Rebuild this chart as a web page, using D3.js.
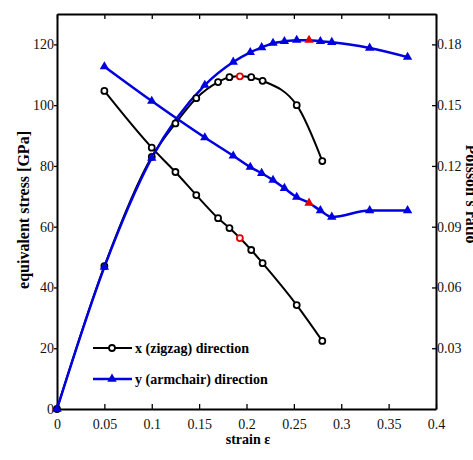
<!DOCTYPE html>
<html lang="en">
<head>
    <meta charset="UTF-8">
    <script src="https://d3js.org/d3.v7.min.js"></script>
    <title>stress and Poisson ratio vs strain</title>
    <style>
        body { margin: 0; background: #fff; }
        svg, svg text { font-family: "Times New Roman", "Liberation Serif", "DejaVu Serif", serif; }
    </style>
</head>
<body>
    <figure style="margin:0"></figure>
    <script>
        //data
        const zigzagStrain  = [0, 0.05, 0.1, 0.125, 0.147, 0.17, 0.182, 0.193, 0.205, 0.217, 0.253, 0.28];
        const zigzagStress  = [0, 47, 83, 94, 102.3, 107.6, 109.2, 109.5, 109.2, 108, 100, 81.6];
        const zigzagPoisson = [null, 0.157, 0.129, 0.117, 0.1056, 0.0942, 0.0893, 0.0844, 0.0785, 0.072, 0.0513, 0.0336];
        const zigzagMark = 7;

        const armchairStrain  = [0, 0.05, 0.1, 0.156, 0.186, 0.204, 0.216, 0.228, 0.24, 0.253, 0.266, 0.278, 0.29, 0.33, 0.37];
        const armchairStress  = [0, 46.7, 82.6, 106.6, 114.2, 117.4, 119, 120.4, 121, 121.4, 121.4, 121, 120.7, 118.8, 115.8];
        const armchairPoisson = [null, 0.169, 0.152, 0.134, 0.125, 0.1194, 0.1164, 0.113, 0.109, 0.1046, 0.1017, 0.098, 0.0948, 0.098, 0.098];
        const armchairMark = 10;

        const xTicks = [0, 0.05, 0.1, 0.15, 0.2, 0.25, 0.3, 0.35, 0.4];
        const stressTicks = [0, 20, 40, 60, 80, 100, 120];
        const poissonTicks = [0.03, 0.06, 0.09, 0.12, 0.15, 0.18];

        const seriesNames = ["x (zigzag) direction", "y (armchair) direction"];

        //declare variables
        const w = 473;
        const h = 460;
        const padLeft = 57, padRight = 436, padTop = 14, padBottom = 409;

        const xScale = d3.scaleLinear().domain([0, 0.4]).range([padLeft, padRight]);
        const yScale = d3.scaleLinear().domain([0, 130]).range([padBottom, padTop]);
        const pScale = d3.scaleLinear().domain([0, 0.195]).range([padBottom, padTop]);

        const svg = d3.select("figure")
            .append("svg")
            .attr("width", w)
            .attr("height", h);

        svg.append("rect").attr("width", w).attr("height", h).attr("fill", "#fff");

        //axes, matlab style with inward ticks
        svg.append("g")
            .attr("transform", "translate(0," + padBottom + ")")
            .call(d3.axisBottom(xScale).tickValues(xTicks).tickSizeInner(-5).tickSizeOuter(0)
                .tickFormat(d => String(+d.toFixed(2))))
            .call(g => g.selectAll("text").attr("dy", "1.2em"));

        svg.append("g")
            .attr("transform", "translate(0," + padTop + ")")
            .call(d3.axisTop(xScale).tickValues(xTicks).tickSizeInner(-5).tickSizeOuter(0).tickFormat(""));

        svg.append("g")
            .attr("transform", "translate(" + padLeft + ",0)")
            .call(d3.axisLeft(yScale).tickValues(stressTicks).tickSizeInner(3).tickSizeOuter(0))
            .call(g => g.selectAll("text").attr("x", -3));

        svg.append("g")
            .attr("transform", "translate(" + padRight + ",0)")
            .call(d3.axisRight(pScale).tickValues(poissonTicks).tickSizeInner(-4).tickSizeOuter(0))
            .call(g => g.selectAll("text").attr("x", 1));

        svg.selectAll("g").attr("font-family", null);
        svg.selectAll(".domain").attr("stroke", "#000").attr("stroke-width", 2);
        svg.selectAll(".tick line").attr("stroke", "#000").attr("stroke-width", 1.3);
        svg.selectAll(".tick text")
            .attr("font-size", 14)
            .attr("fill", "#111");

        //axis labels
        svg.append("text")
            .attr("transform", "translate(29,210) rotate(-90)")
            .attr("text-anchor", "middle")
            .attr("font-size", 16)
            .attr("font-weight", "bold")
            .text("equivalent stress [GPa]");

        svg.append("text")
            .attr("x", 248)
            .attr("y", 444)
            .attr("text-anchor", "middle")
            .attr("font-size", 14)
            .attr("font-weight", "bold")
            .text("strain \u03b5");

        svg.append("text")
            .attr("transform", "translate(466,194) rotate(90)")
            .attr("text-anchor", "middle")
            .attr("font-size", 16)
            .attr("font-weight", "bold")
            .text("Poisson's ratio");

        //lines
        const stressLine = (xs, ys) => d3.line()
            .defined(i => ys[i] != null)
            .x(i => xScale(xs[i]))
            .y(i => yScale(ys[i]))
            .curve(d3.curveMonotoneX)(d3.range(xs.length));

        const poissonLine = (xs, ps) => d3.line()
            .defined(i => ps[i] != null)
            .x(i => xScale(xs[i]))
            .y(i => pScale(ps[i]))
            .curve(d3.curveMonotoneX)(d3.range(xs.length));

        svg.append("path").attr("d", stressLine(zigzagStrain, zigzagStress))
            .attr("fill", "none").attr("stroke", "#000").attr("stroke-width", 2);
        svg.append("path").attr("d", poissonLine(zigzagStrain, zigzagPoisson))
            .attr("fill", "none").attr("stroke", "#000").attr("stroke-width", 2);
        svg.append("path").attr("d", stressLine(armchairStrain, armchairStress))
            .attr("fill", "none").attr("stroke", "#0000e0").attr("stroke-width", 2.5);
        svg.append("path").attr("d", poissonLine(armchairStrain, armchairPoisson))
            .attr("fill", "none").attr("stroke", "#0000e0").attr("stroke-width", 2.5);

        //markers
        function circles(xs, ys, scale, mark) {
            svg.append("g").selectAll("circle")
                .data(d3.range(xs.length).filter(i => ys[i] != null))
                .enter()
                .append("circle")
                .attr("cx", i => xScale(xs[i]))
                .attr("cy", i => scale(ys[i]))
                .attr("r", 3)
                .attr("fill", "#fff")
                .attr("stroke", i => i === mark ? "#e00000" : "#000")
                .attr("stroke-width", 1.8);
        }

        const tri = d3.symbol().type(d3.symbolTriangle).size(38);
        function triangles(xs, ys, scale, mark) {
            svg.append("g").selectAll("path")
                .data(d3.range(xs.length).filter(i => ys[i] != null))
                .enter()
                .append("path")
                .attr("d", tri)
                .attr("transform", i => "translate(" + xScale(xs[i]) + "," + scale(ys[i]) + ")")
                .attr("fill", i => i === mark ? "#e00000" : "#0000e0");
        }

        circles(zigzagStrain, zigzagStress, yScale, zigzagMark);
        circles(zigzagStrain, zigzagPoisson, pScale, zigzagMark);
        triangles(armchairStrain, armchairStress, yScale, armchairMark);
        triangles(armchairStrain, armchairPoisson, pScale, armchairMark);

        //legend
        const legend = svg.append("g").attr("font-size", 14).attr("font-weight", "bold");
        const legendY = [348, 379];
        const legendColor = ["#000", "#0000e0"];
        seriesNames.forEach((name, k) => {
            legend.append("line")
                .attr("x1", 93).attr("x2", 132)
                .attr("y1", legendY[k]).attr("y2", legendY[k])
                .attr("stroke", legendColor[k])
                .attr("stroke-width", k ? 2.5 : 2);
            legend.append("text")
                .attr("x", 135)
                .attr("y", legendY[k] + 5)
                .text(name);
        });
        legend.append("circle").attr("cx", 112).attr("cy", legendY[0]).attr("r", 3)
            .attr("fill", "#fff").attr("stroke", "#000").attr("stroke-width", 1.8);
        legend.append("path").attr("d", tri)
            .attr("transform", "translate(112," + legendY[1] + ")").attr("fill", "#0000e0");
    </script>
</body>
</html>
